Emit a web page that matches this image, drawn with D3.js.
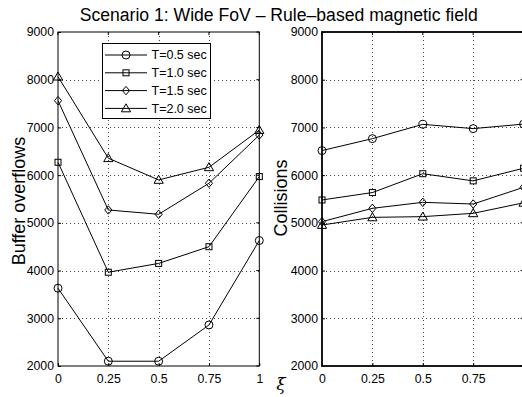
<!DOCTYPE html>
<html>
<head>
<meta charset="utf-8">
<script src="https://cdn.jsdelivr.net/npm/d3@7"></script>
<style>
  html, body { margin: 0; padding: 0; background: #fff; }
  svg { display: block; }
  text { font-family: "Liberation Sans", Arial, Helvetica, sans-serif; fill: #000; }
</style>
</head>
<body>
<svg id="chart" width="522" height="397"></svg>
<script>
// ---- data ----
const xiValues = [0, 0.25, 0.5, 0.75, 1];
const xTickLabels = ["0", "0.25", "0.5", "0.75", "1"];
const yTicks = [2000, 3000, 4000, 5000, 6000, 7000, 8000, 9000];
const seriesNames = ["T=0.5 sec", "T=1.0 sec", "T=1.5 sec", "T=2.0 sec"];
const markerTypes = ["circle", "square", "diamond", "triangle"];

// Buffer overflows (left panel)
const overflowT05 = [3630, 2100, 2100, 2860, 4630];
const overflowT10 = [6270, 3965, 4150, 4500, 5970];
const overflowT15 = [7560, 5270, 5180, 5830, 6840];
const overflowT20 = [8065, 6355, 5900, 6165, 6945];

// Collisions (right panel)
const collisionT05 = [6515, 6765, 7065, 6975, 7070];
const collisionT10 = [5480, 5635, 6030, 5880, 6145];
const collisionT15 = [5025, 5305, 5430, 5395, 5745];
const collisionT20 = [4955, 5115, 5130, 5200, 5420];

const titleText = "Scenario 1: Wide FoV \u2013 Rule\u2013based magnetic field";

// ---- drawing ----
const svg = d3.select("#chart");
const tickFont = 12.3;

function marker(g, type, cx, cy) {
  const sw = 1;
  if (type === "circle") {
    g.append("circle").attr("cx", cx).attr("cy", cy).attr("r", 4)
      .attr("fill", "none").attr("stroke", "#000").attr("stroke-width", sw);
  } else if (type === "square") {
    g.append("rect").attr("x", cx - 3).attr("y", cy - 3).attr("width", 6).attr("height", 6)
      .attr("fill", "none").attr("stroke", "#000").attr("stroke-width", sw);
  } else if (type === "diamond") {
    g.append("path").attr("d", `M${cx},${cy - 4.2}L${cx + 3.6},${cy}L${cx},${cy + 4.2}L${cx - 3.6},${cy}Z`)
      .attr("fill", "none").attr("stroke", "#000").attr("stroke-width", sw);
  } else {
    g.append("path").attr("d", `M${cx},${cy - 4.6}L${cx + 4.6},${cy + 3.4}L${cx - 4.6},${cy + 3.4}Z`)
      .attr("fill", "none").attr("stroke", "#000").attr("stroke-width", sw);
  }
}

function panel(opts) {
  const x = d3.scaleLinear().domain([0, 1]).range([opts.x0, opts.x1]);
  const y = d3.scaleLinear().domain([2000, 9000]).range([366, 32]);
  const g = svg.append("g");

  // grid (dotted)
  const grid = g.append("g").attr("stroke", "#444").attr("stroke-width", 1)
    .attr("stroke-dasharray", "1,3");
  xiValues.slice(1, -1).forEach(v => {
    grid.append("line").attr("x1", Math.round(x(v)) + 0.5).attr("x2", Math.round(x(v)) + 0.5)
      .attr("y1", y(9000)).attr("y2", y(2000));
  });
  yTicks.slice(1, -1).forEach(v => {
    grid.append("line").attr("y1", Math.round(y(v)) + 0.5).attr("y2", Math.round(y(v)) + 0.5)
      .attr("x1", x(0)).attr("x2", x(1));
  });

  // axes via d3 axis generators (inward ticks)
  const xAxis = d3.axisBottom(x).tickValues(xiValues)
    .tickFormat((d, i) => xTickLabels[i]).tickSizeInner(-3).tickSizeOuter(0).tickPadding(7);
  const yAxis = d3.axisLeft(y).tickValues(yTicks)
    .tickFormat(d3.format("d")).tickSizeInner(-3).tickSizeOuter(0).tickPadding(4);

  const gx = g.append("g").attr("transform", `translate(0,${y(2000)})`).call(xAxis);
  const gy = g.append("g").attr("transform", `translate(${x(0)},0)`).call(yAxis);
  [gx, gy].forEach(a => {
    a.select(".domain").remove();
    a.selectAll("line").attr("stroke", "#000");
    a.selectAll("text").style("font-family", '"Liberation Sans", Arial, sans-serif')
      .style("font-size", tickFont + "px").attr("fill", "#000");
  });
  gx.selectAll("text").attr("dy", "0.85em");
  if (opts.hideLastX) gx.selectAll(".tick").filter(d => d === 1).select("text").remove();

  // top & right inward ticks
  const tk = g.append("g").attr("stroke", "#000");
  xiValues.forEach(v => tk.append("line").attr("x1", x(v)).attr("x2", x(v)).attr("y1", y(9000)).attr("y2", y(9000) + 3));
  yTicks.forEach(v => tk.append("line").attr("x1", x(1)).attr("x2", x(1) - 3).attr("y1", y(v)).attr("y2", y(v)));

  // box
  g.append("rect").attr("x", x(0)).attr("y", y(9000))
    .attr("width", x(1) - x(0)).attr("height", y(2000) - y(9000))
    .attr("fill", "none").attr("stroke", "#000").attr("stroke-width", opts.boxWidth);

  // series
  const line = d3.line().x((d, i) => x(xiValues[i])).y(d => y(d));
  opts.series.forEach((vals, si) => {
    g.append("path").attr("d", line(vals)).attr("fill", "none")
      .attr("stroke", "#000").attr("stroke-width", 1);
    vals.forEach((v, i) => marker(g, markerTypes[si], x(xiValues[i]), y(v)));
  });

  // y label
  g.append("text")
    .attr("transform", `translate(${opts.labelX},${opts.labelY}) rotate(-90)`)
    .attr("text-anchor", "middle").style("font-size", "18px").text(opts.label);
  return { x, y, g };
}

panel({
  x0: 58, x1: 259.3, boxWidth: 1,
  series: [overflowT05, overflowT10, overflowT15, overflowT20],
  label: "Buffer overflows", labelX: 25, labelY: 201
});
panel({
  x0: 322, x1: 523.6, boxWidth: 1.8, hideLastX: true,
  series: [collisionT05, collisionT10, collisionT15, collisionT20],
  label: "Collisions", labelX: 287, labelY: 198
});

// legend
const lg = svg.append("g");
lg.append("rect").attr("x", 102.5).attr("y", 43.5).attr("width", 108).attr("height", 75)
  .attr("fill", "#fff").attr("stroke", "#000").attr("stroke-width", 1);
const legendY = [55, 72.8, 90.6, 108.4];
seriesNames.forEach((name, i) => {
  lg.append("line").attr("x1", 105).attr("x2", 147).attr("y1", legendY[i]).attr("y2", legendY[i])
    .attr("stroke", "#000").attr("stroke-width", 1);
  marker(lg, markerTypes[i], 126, legendY[i]);
  lg.append("text").attr("x", 151.5).attr("y", legendY[i] + 4.4)
    .style("font-size", "12.5px").text(name);
});

// title
svg.append("text").attr("x", 278.7).attr("y", 21).attr("text-anchor", "middle")
  .style("font-size", "17.6px").text(titleText);

// x label (xi)
svg.append("text").attr("x", 281).attr("y", 390).attr("text-anchor", "middle")
  .style("font-family", '"DejaVu Serif", serif').style("font-style", "italic")
  .style("font-size", "17px").text("\u03BE");
</script>
</body>
</html>
